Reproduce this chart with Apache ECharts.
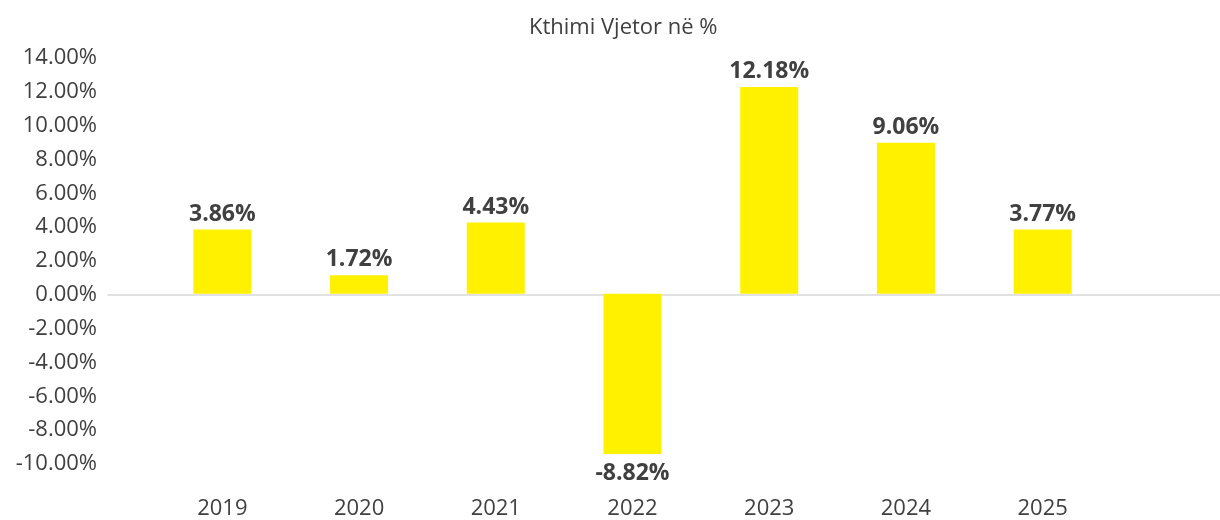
<!DOCTYPE html>
<html>
<head>
<meta charset="utf-8">
<script src="https://cdn.jsdelivr.net/npm/echarts@6/dist/echarts.min.js"></script>
<style>
  html, body { margin: 0; padding: 0; background: #fff; }
  #chart { width: 1220px; height: 520px; }
</style>
</head>
<body>
<div id="chart"></div>
<script>
// data
const years = ['2019', '2020', '2021', '2022', '2023', '2024', '2025'];
const returns = [3.81, 1.09, 4.23, -9.53, 12.28, 8.97, 3.81];   // bar heights as drawn
const returnLabels = ['3.86%', '1.72%', '4.43%', '-8.82%', '12.18%', '9.06%', '3.77%'];
const yTicks = { min: -10, max: 14, step: 2 };

const textColor = '#404040';
const font = 'Open Sans';

const chart = echarts.init(document.getElementById('chart'), null, { renderer: 'canvas' });

const barData = returns.map((v, i) => ({
  value: v,
  label: {
    position: v < 0 ? 'bottom' : 'top',
    distance: v < 0 ? 8 : 4,
    formatter: () => returnLabels[i]
  }
}));

chart.setOption({
  backgroundColor: '#fff',
  animation: false,
  title: {
    text: 'Kthimi Vjetor në %',
    left: 524,
    top: 12,
    textStyle: { color: textColor, fontFamily: font, fontSize: 22, fontWeight: 'normal' }
  },
  grid: [
    // bars
    { left: 154, right: 109, top: 58, bottom: 56 },
    // full-width zero line + y labels
    { left: 108, right: 0, top: 58, bottom: 56 }
  ],
  xAxis: [
    {
      type: 'category',
      gridIndex: 0,
      data: years,
      position: 'bottom',
      axisLine: { show: false, onZero: false },
      axisTick: { show: false },
      axisLabel: { color: textColor, fontFamily: font, fontSize: 22, margin: 36 }
    },
    {
      type: 'category',
      gridIndex: 1,
      data: [''],
      axisLine: { show: true, onZero: true, lineStyle: { color: '#d9d9d9', width: 1.5 } },
      axisTick: { show: false },
      axisLabel: { show: false }
    }
  ],
  yAxis: [
    {
      type: 'value',
      gridIndex: 0,
      min: yTicks.min,
      max: yTicks.max,
      interval: yTicks.step,
      show: false,
      splitLine: { show: false }
    },
    {
      type: 'value',
      gridIndex: 1,
      min: yTicks.min,
      max: yTicks.max,
      interval: yTicks.step,
      axisLine: { show: false },
      axisTick: { show: false },
      splitLine: { show: false },
      axisLabel: {
        color: textColor,
        fontFamily: font,
        fontSize: 22,
        margin: 11,
        formatter: v => v.toFixed(2) + '%'
      }
    }
  ],
  series: [
    {
      type: 'bar',
      xAxisIndex: 0,
      yAxisIndex: 0,
      barWidth: 58,
      data: barData,
      itemStyle: { color: '#FFF100' },
      label: {
        show: true,
        color: textColor,
        fontFamily: font,
        fontSize: 23,
        fontWeight: 'bold'
      }
    }
  ]
});
</script>
</body>
</html>
